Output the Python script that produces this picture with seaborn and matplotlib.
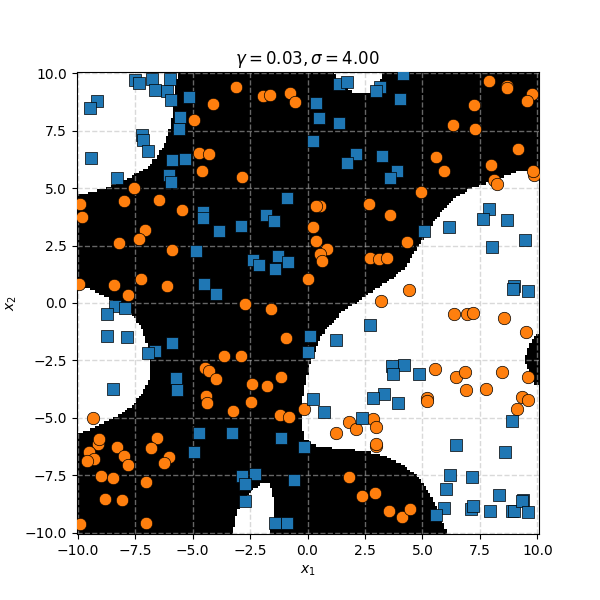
import numpy as np
import pandas as pd
import matplotlib
matplotlib.use("Agg")
import matplotlib.pyplot as plt
from matplotlib.colors import ListedColormap
from matplotlib.path import Path
import seaborn as sns

blue_x = [-7.49,-7.33,-6.75,-5.99,-6.64,-6.12,-5.95,-5.17,-9.15,-9.45,-5.56,-5.60,-7.20,-7.16,-6.94,-9.41,-5.90,-5.34,-8.28,-6.03,-5.95,-0.88,-4.56,-4.56,-3.87,-2.91,-1.82,-1.44,-4.86,-2.35,-2.09,-1.27,-0.84,-1.40,-4.52,-4.00,
          1.35,1.74,3.16,3.00,4.14,4.01,0.39,0.48,1.35,0.26,2.13,1.74,3.22,3.88,3.61,7.88,7.62,8.66,6.14,5.09,9.45,8.01,8.97,8.93,9.58,
          -8.37,-7.94,-8.72,-8.72,-7.85,-5.90,-6.64,-6.94,-5.73,-5.69,-8.46,-4.73,-3.30,-4.95,-1.14,-2.87,-2.27,-2.74,-0.58,-2.74,-1.40,-0.88,
          2.70,0.13,1.22,0.00,3.66,4.18,3.74,4.83,3.31,2.83,3.92,0.26,0.70,2.35,8.88,-0.15,6.44,8.58,6.18,7.14,6.01,8.32,5.92,5.57,7.10,7.18,7.92,8.88,9.00,9.36,9.32,9.58]
blue_y = [9.70,9.57,9.75,9.75,9.28,9.24,8.83,8.96,8.80,8.48,8.10,7.58,7.30,7.10,6.62,6.32,6.23,6.28,5.45,5.56,5.28,4.55,3.94,3.69,3.12,3.33,3.81,3.55,2.25,1.85,1.65,2.03,1.77,1.47,0.82,0.39,
          9.54,9.61,9.39,9.22,9.96,8.87,8.70,8.05,7.84,7.06,6.49,6.10,6.41,5.76,5.45,4.07,3.64,3.59,3.29,3.12,2.73,2.42,0.74,0.61,0.52,
          -0.13,-0.22,-0.48,-1.43,-1.48,-1.74,-2.09,-2.17,-3.26,-3.78,-3.74,-5.65,-5.65,-6.48,-5.87,-7.52,-7.43,-7.87,-7.70,-8.61,-9.57,-9.57,
          -0.96,-1.43,-1.61,-2.13,-2.74,-2.70,-3.09,-3.09,-3.96,-4.13,-4.35,-4.17,-4.74,-5.00,-5.13,-6.26,-6.17,-6.48,-7.48,-7.57,-8.09,-8.35,-8.91,-9.22,-8.96,-8.83,-9.04,-9.04,-9.04,-8.57,-8.61,-9.09]

orange_x = [-3.09,-1.92,-1.62,-0.75,-0.53,-4.13,-4.95,-4.73,-4.30,-4.60,-2.87,-7.55,-7.98,-6.46,-5.47,-9.90,-9.80,-7.07,-7.34,-8.20,-5.90,-7.26,-8.41,-6.12,-9.93,-7.81,-2.71,
            7.88,8.66,8.66,9.75,9.54,7.23,6.31,7.27,9.14,5.57,7.97,5.96,9.84,9.80,8.13,8.23,4.92,2.66,0.54,0.35,3.57,0.26,0.35,4.35,0.83,0.54,0.61,2.73,3.13,3.44,0.04,4.40,3.18,
            -1.57,-0.92,-3.65,-2.91,-4.47,-4.30,-4.00,-1.14,-2.40,-1.75,-4.43,-4.39,-2.44,-3.22,-1.18,-0.79,-0.14,-9.32,-6.55,-6.81,-9.11,-9.09,-8.28,-7.98,-9.49,-9.28,-9.58,-7.81,-6.03,-6.25,-8.98,-8.46,-7.03,-8.80,-8.07,-7.03,-9.88,
            6.36,6.92,7.18,8.53,9.49,5.53,6.44,6.84,8.45,9.58,6.88,7.75,5.18,5.18,9.32,9.58,9.10,1.79,2.83,2.96,2.13,1.26,2.96,3.00,1.79,2.39,2.92,3.53,4.09,4.44]
orange_y = [9.39,9.00,9.05,9.13,8.74,8.66,7.94,6.54,6.49,5.76,5.50,4.99,4.42,4.46,4.04,4.29,3.72,3.16,2.77,2.60,2.29,1.03,0.77,0.73,0.82,0.35,-0.03,
            9.67,9.44,9.35,9.09,8.79,8.61,7.75,7.58,6.71,6.36,6.02,5.76,5.56,5.76,5.37,5.19,4.81,4.29,4.24,4.20,3.81,3.29,2.68,2.64,2.34,2.12,1.82,1.95,1.91,1.95,1.04,0.56,0.10,
            -0.26,-1.52,-2.30,-2.30,-2.83,-2.96,-3.30,-3.22,-3.52,-3.61,-4.04,-4.35,-4.30,-4.70,-4.87,-4.96,-4.61,-5.00,-5.87,-6.30,-6.13,-5.91,-6.26,-6.65,-6.48,-6.78,-6.87,-7.04,-6.70,-6.96,-7.52,-7.61,-7.78,-8.52,-8.57,-9.57,-9.61,
            -0.48,-0.48,-0.43,-0.65,-1.26,-2.87,-3.22,-3.00,-3.00,-3.22,-3.78,-3.74,-4.13,-4.26,-4.09,-4.22,-4.61,-5.17,-5.04,-5.39,-5.48,-5.65,-6.22,-6.13,-7.57,-8.39,-8.26,-9.04,-9.30,-8.96]

# outlines of the class regions predicted as white
white_top_left = [(-10.1,4.69),(-8.89,4.95),(-7.88,5.38),(-7.01,5.89),(-6.58,6.32),(-6.15,7.04),(-5.93,7.76),(-5.86,8.48),(-5.75,9.2),(-5.67,10.1),(-10.1,10.1)]
white_top_mid = [(1.12,10.1),(1.25,9.8),(1.81,9.28),(2.25,9.09),(2.76,9.2),(3.12,9.57),(3.34,10.1)]
white_right = [(10.1,5.74),(9.07,5.71),(8.64,5.53),(7.47,5.09),(7.11,4.99),(6.46,4.59),(5.88,4.01),(5.52,3.58),(5.0,2.71),(4.64,2.21),(4.28,1.56),(3.56,0.98),(2.54,0.33),(2.2,0.05),(1.52,-0.36),(0.87,-1.09),(0.51,-1.6),(0.15,-2.46),(-0.05,-3.33),(-0.22,-4.2),(-0.27,-4.93),(-0.16,-5.87),(0.36,-6.23),(1.09,-6.3),(2.54,-6.45),(3.41,-6.67),(4.14,-7.03),(4.79,-7.54),(5.30,-8.26),(5.73,-9.13),(6.12,-10.1),(10.1,-10.1),(10.1,-3.62),(9.84,-3.55),(9.65,-2.97),(9.43,-2.54),(9.58,-1.96),(9.8,-1.52),(10.1,-1.3)]
white_left = [(-10.1,0.84),(-9.32,0.55),(-8.46,0.12),(-7.81,-0.22),(-7.59,-0.58),(-7.23,-1.01),(-6.94,-1.88),(-6.80,-2.61),(-6.87,-3.33),(-7.23,-3.99),(-7.66,-4.49),(-8.17,-4.86),(-8.89,-5.22),(-9.61,-5.58),(-10.1,-5.65)]
white_bottom = [(-3.26,-10.1),(-3.12,-9.28),(-2.97,-8.91),(-2.54,-8.26),(-1.96,-7.83),(-1.68,-7.83),(-1.5,-8.41),(-1.46,-9.13),(-1.53,-9.71),(-1.68,-10.1)]

centers = np.linspace(-10, 10, 201)
gx, gy = np.meshgrid(centers, centers)
cells = np.column_stack([gx.ravel(), gy.ravel()])
is_white = np.zeros(len(cells), dtype=bool)
for outline in [white_top_left, white_top_mid, white_right, white_left, white_bottom]:
    is_white |= Path(outline).contains_points(cells)
Z = is_white.reshape(gx.shape).astype(float)

fig, ax = plt.subplots(figsize=(6, 6), dpi=100)
ax.pcolormesh(centers, centers, Z, cmap=ListedColormap(["black", "white"]), vmin=0, vmax=1, shading="nearest", zorder=0)
ax.grid(True, linestyle="--", color="#bbbbbb", alpha=0.55, linewidth=1.0, zorder=1)

orange_df = pd.DataFrame({"x": orange_x, "y": orange_y})
blue_df = pd.DataFrame({"x": blue_x, "y": blue_y})
sns.scatterplot(data=orange_df, x="x", y="y", marker="o", s=80, color="tab:orange", edgecolor="k", linewidth=0.5, ax=ax, zorder=3)
sns.scatterplot(data=blue_df, x="x", y="y", marker="s", s=80, color="tab:blue", edgecolor="k", linewidth=0.5, ax=ax, zorder=3)

ax.set_xlim(-10.05, 10.05)
ax.set_ylim(-10.05, 10.05)
ax.set_aspect("equal")
ax.set_xticks(np.arange(-10, 10.1, 2.5))
ax.set_yticks(np.arange(-10, 10.1, 2.5))
ax.set_xlabel("$x_1$")
ax.set_ylabel("$x_2$")
ax.set_title(r"$\gamma=0.03, \sigma=4.00$")
fig.savefig("out.png", dpi=100)
